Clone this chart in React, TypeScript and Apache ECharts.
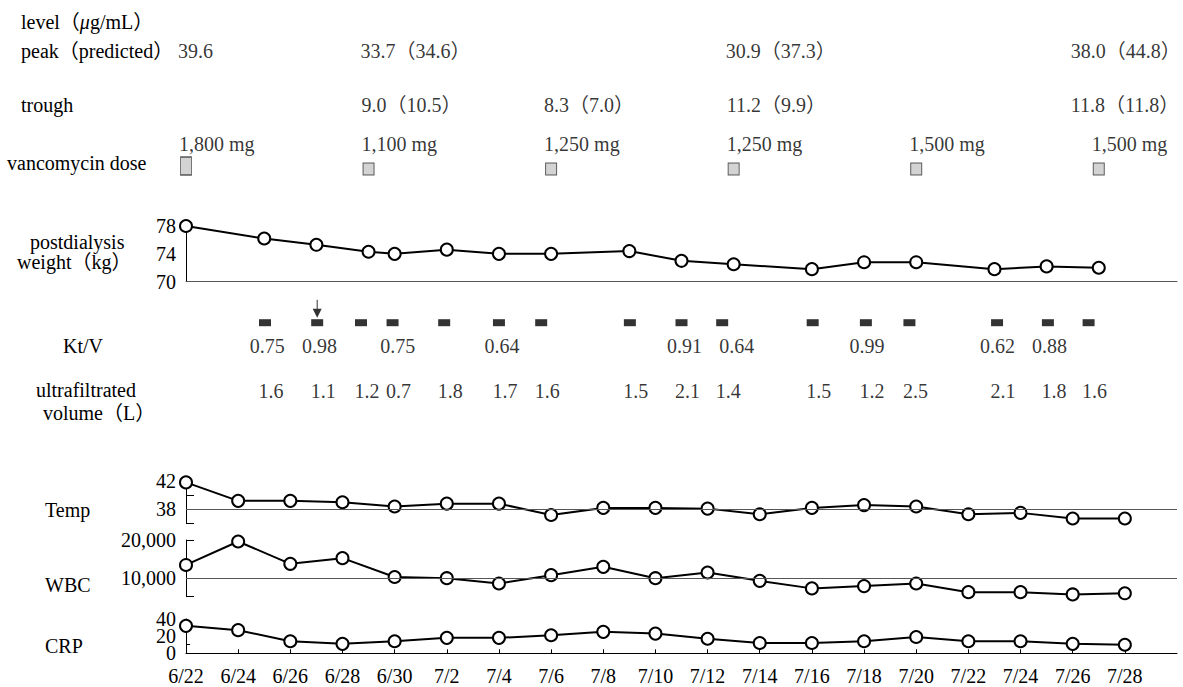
import React, { useEffect, useRef } from "react";
import * as echarts from "echarts";

// ---------- data ----------
const tickDates = ["6/22", "6/24", "6/26", "6/28", "6/30", "7/2", "7/4", "7/6", "7/8", "7/10", "7/12", "7/14", "7/16", "7/18", "7/20", "7/22", "7/24", "7/26", "7/28"];
const tempC = [41.8, 39.2, 39.2, 39.0, 38.4, 38.8, 38.8, 37.2, 38.2, 38.2, 38.1, 37.3, 38.2, 38.6, 38.4, 37.3, 37.5, 36.7, 36.7];
const wbc = [13400, 19600, 13700, 15200, 10200, 9900, 8500, 10700, 12900, 9900, 11400, 9200, 7200, 7800, 8500, 6200, 6200, 5600, 5900];
const crp = [32, 27, 14, 11, 14, 18, 18, 21, 25, 23, 17, 12, 12, 14, 19, 14, 14, 11, 10];

const weightDates = ["6/22", "6/25", "6/27", "6/29", "6/30", "7/2", "7/4", "7/6", "7/9", "7/11", "7/13", "7/16", "7/18", "7/20", "7/23", "7/25", "7/27"];
const weightKg = [78.0, 76.2, 75.3, 74.3, 74.0, 74.6, 74.0, 74.0, 74.4, 73.0, 72.5, 71.8, 72.8, 72.8, 71.8, 72.2, 72.0];

const doseDates = ["6/22", "6/29", "7/6", "7/13", "7/20", "7/27"];
const doseMg = [1800, 1100, 1250, 1250, 1500, 1500];

const peakDates = ["6/22", "6/29", "7/13", "7/27"];
const peakMeasured = [39.6, 33.7, 30.9, 38.0];
const peakPredicted: (number | null)[] = [null, 34.6, 37.3, 44.8];

const troughDates = ["6/29", "7/6", "7/13", "7/27"];
const troughMeasured = [9.0, 8.3, 11.2, 11.8];
const troughPredicted = [10.5, 7.0, 9.9, 11.8];

// dialysis sessions (days after 6/22, as drawn)
const sessionDays = [3.03, 5.03, 6.71, 7.92, 9.9, 12.0, 13.62, 17.02, 19.0, 20.56, 24.03, 26.07, 27.74, 31.1, 33.05, 34.61];
const ufVolumeL = [1.6, 1.1, 1.2, 0.7, 1.8, 1.7, 1.6, 1.5, 2.1, 1.4, 1.5, 1.2, 2.5, 2.1, 1.8, 1.6];
const arrowSessions = [1];

const ktvDates = ["6/25", "6/27", "6/30", "7/4", "7/11", "7/13", "7/18", "7/23", "7/25"];
const ktv = [0.75, 0.98, 0.75, 0.64, 0.91, 0.64, 0.99, 0.62, 0.88];

const weightTicks = [70, 74, 78];
const tempLabels = [38, 42];
const wbcLabels = [10000, 20000];
const crpLabelsOuter = [0, 40];
const crpLabelsMid = [20];

const feverLine = 38;
const wbcLine = 10000;

// ---------- helpers ----------
const FONT = "'Liberation Serif', 'Noto Sans CJK JP', serif";
const FS = 20;
const X_MAX = 38;

function dayOf(s: string) {
  const [m, d] = s.split("/").map(Number);
  return m === 6 ? d - 22 : d + 8;
}
const fmtNum = (v: number) => v.toLocaleString("en-US");

function textSeries(grid: number, xs: number[], texts: string[], align: string, dxFn: (i: number) => number, dy = 0, y = 0.5) {
  return {
    type: "scatter",
    xAxisIndex: grid,
    yAxisIndex: grid,
    silent: true,
    symbolSize: 1,
    itemStyle: { color: "rgba(0,0,0,0)" },
    data: xs.map((x, i) => ({ value: [x, y], label: { offset: [dxFn(i), dy] } })),
    label: {
      show: true,
      position: "inside",
      align,
      verticalAlign: "middle",
      color: "#000",
      fontFamily: FONT,
      fontSize: FS,
      formatter: (p: any) => texts[p.dataIndex],
    },
  };
}

const lineStyleSeries = (grid: number, xs: number[], ys: number[], extra: any = {}) => ({
  type: "line",
  xAxisIndex: grid,
  yAxisIndex: grid,
  data: xs.map((x, i) => [x, ys[i]]),
  symbol: "circle",
  symbolSize: 12,
  lineStyle: { color: "#000", width: 2 },
  itemStyle: { color: "#fff", borderColor: "#000", borderWidth: 2 },
  silent: true,
  ...extra,
});

const refLine = (v: number) => ({
  silent: true,
  symbol: ["none", "none"],
  label: { show: false },
  lineStyle: { color: "#555", width: 1, type: "solid" },
  data: [{ yAxis: v }],
});

function rowLabel(text: string, x: number, y: number) {
  return {
    type: "text",
    x,
    y,
    silent: true,
    style: {
      text,
      fill: "#000",
      fontFamily: FONT,
      fontSize: FS,
      align: "left",
      verticalAlign: "middle",
      textAlign: "left",
      textVerticalAlign: "middle",
    },
  };
}

export default function App() {
  const ref = useRef<HTMLDivElement>(null);
  useEffect(() => {
    const chart = echarts.init(ref.current!, undefined, { renderer: "svg" });

    const gridDefs = [
      { top: 41, height: 20 }, // 0 peak
      { top: 95, height: 20 }, // 1 trough
      { top: 135, height: 40 }, // 2 dose
      { top: 226, height: 55.7 }, // 3 weight
      { top: 312.7, height: 20 }, // 4 sessions
      { top: 335.7, height: 20 }, // 5 Kt/V
      { top: 381, height: 20 }, // 6 UF
      { top: 481, height: 42.5 }, // 7 temp
      { top: 540, height: 56.7 }, // 8 WBC
      { top: 619, height: 34.3 }, // 9 CRP
    ];
    const grid = gridDefs.map((g) => ({ ...g, left: 186, right: 6, containLabel: false, outerBoundsMode: "none" }));

    const tickDays = tickDates.map(dayOf);
    const labelByDay: Record<number, string> = {};
    tickDates.forEach((s) => (labelByDay[dayOf(s)] = s));

    const xAxis = gridDefs.map((_, i) => {
      const base: any = { gridIndex: i, type: "value", min: 0, max: X_MAX, splitLine: { show: false } };
      if (i === 3) {
        return { ...base, axisLine: { show: true, onZero: false, lineStyle: { color: "#555", width: 1 } }, axisTick: { show: false }, axisLabel: { show: false } };
      }
      if (i === 9) {
        return {
          ...base,
          axisLine: { show: true, onZero: false, lineStyle: { color: "#000", width: 1 } },
          axisTick: { show: true, inside: true, length: 4, customValues: tickDays, lineStyle: { color: "#000" } },
          axisLabel: {
            show: true,
            customValues: tickDays,
            margin: 13,
            color: "#000",
            fontFamily: FONT,
            fontSize: FS,
            hideOverlap: false,
            formatter: (v: number) => labelByDay[v] ?? "",
          },
        };
      }
      return { ...base, show: false };
    });

    const yLabel = { color: "#000", fontFamily: FONT, fontSize: FS, margin: 10, showMinLabel: true, showMaxLabel: true, hideOverlap: false };
    const yAxis: any[] = gridDefs.map((_, i) => {
      const base: any = { gridIndex: i, type: "value", splitLine: { show: false } };
      if (i === 3) {
        return { ...base, min: 70, max: 78, axisLine: { show: true, lineStyle: { color: "#000" } }, axisTick: { show: false }, axisLabel: { ...yLabel, customValues: weightTicks } };
      }
      if (i === 7) {
        return {
          ...base, min: 36, max: 42,
          axisLine: { show: true, lineStyle: { color: "#000" } },
          axisTick: { show: true, inside: true, length: 8, customValues: [36, 38, 40], lineStyle: { color: "#000" } },
          axisLabel: { ...yLabel, customValues: tempLabels },
        };
      }
      if (i === 8) {
        return {
          ...base, min: 5000, max: 20000,
          axisLine: { show: true, lineStyle: { color: "#000" } },
          axisTick: { show: true, inside: true, length: 8, customValues: [5000, 10000, 20000], lineStyle: { color: "#000" } },
          axisLabel: { ...yLabel, customValues: wbcLabels, formatter: (v: number) => fmtNum(v) },
        };
      }
      if (i === 9) {
        return {
          ...base, min: 0, max: 40,
          axisLine: { show: true, lineStyle: { color: "#000" } },
          axisTick: { show: true, inside: true, length: 4, customValues: [10, 30], lineStyle: { color: "#000" } },
          axisLabel: { ...yLabel, customValues: crpLabelsOuter },
        };
      }
      return { ...base, min: 0, max: 1, show: false };
    });
    // second CRP axis carrying only the middle label (labels are stacked tightly)
    yAxis.push({
      gridIndex: 9,
      type: "value",
      position: "left",
      min: 0,
      max: 40,
      splitLine: { show: false },
      axisLine: { show: false },
      axisTick: { show: false },
      axisLabel: { ...yLabel, customValues: crpLabelsMid },
    });

    const peakX = peakDates.map(dayOf);
    const troughX = troughDates.map(dayOf);
    const doseX = doseDates.map(dayOf);
    const tickX = tickDays;

    const series: any[] = [
      textSeries(0, peakX, peakMeasured.map((v, i) => (peakPredicted[i] == null ? v.toFixed(1) : `${v.toFixed(1)}（${(peakPredicted[i] as number).toFixed(1)}）`)), "left", (i) => (peakX[i] >= 35 ? -28 : -8)),
      textSeries(1, troughX, troughMeasured.map((v, i) => `${v.toFixed(1)}（${troughPredicted[i].toFixed(1)}）`), "left", (i) => (troughX[i] >= 35 ? -28 : -7)),
      {
        type: "scatter",
        xAxisIndex: 2,
        yAxisIndex: 2,
        silent: true,
        symbol: "rect",
        itemStyle: { color: "#c8c8c8", borderColor: "#333", borderWidth: 1 },
        data: doseX.map((x, i) => {
          const h = doseMg[i] >= 1800 ? 18 : 12;
          return { value: [x, 0], symbolSize: [11, h], symbolOffset: [0, -h / 2] };
        }),
      },
      textSeries(2, doseX, doseMg.map((v) => `${fmtNum(v)} mg`), "left", () => -7, -31, 0),
      lineStyleSeries(3, weightDates.map(dayOf), weightKg),
      {
        type: "scatter",
        xAxisIndex: 4,
        yAxisIndex: 4,
        silent: true,
        symbol: "rect",
        symbolSize: [12, 7],
        itemStyle: { color: "#000" },
        data: sessionDays.map((x) => [x, 0.5]),
      },
      {
        type: "scatter",
        xAxisIndex: 4,
        yAxisIndex: 4,
        silent: true,
        symbol: "path://M4.5,0 L5.5,0 L5.5,9 L9.5,9 L5,18 L0.5,9 L4.5,9 Z",
        symbolSize: [9, 18],
        symbolOffset: [0, -14],
        itemStyle: { color: "#000" },
        data: arrowSessions.map((i) => [sessionDays[i], 0.5]),
      },
      textSeries(5, ktvDates.map(dayOf), ktv.map((v) => v.toFixed(2)), "center", () => 3),
      textSeries(6, sessionDays, ufVolumeL.map((v) => v.toFixed(1)), "center", () => 6),
      lineStyleSeries(7, tickX, tempC, { markLine: refLine(feverLine) }),
      lineStyleSeries(8, tickX, wbc, { markLine: refLine(wbcLine) }),
      lineStyleSeries(9, tickX, crp),
    ];

    const graphic = [
      {
        type: "text",
        x: 21,
        y: 21.7,
        silent: true,
        style: {
          text: "{n|level（}{i|μ}{n|g/mL）}",
          rich: {
            n: { fontFamily: FONT, fontSize: FS, fill: "#000", color: "#000" },
            i: { fontFamily: FONT, fontSize: FS, fontStyle: "italic", fill: "#000", color: "#000" },
          },
          verticalAlign: "middle",
          textVerticalAlign: "middle",
        },
      },
      rowLabel("peak（predicted）", 21, 51),
      rowLabel("trough", 21, 105),
      rowLabel("vancomycin dose", 7, 163),
      rowLabel("postdialysis", 30, 242),
      rowLabel("weight（kg）", 17, 262),
      rowLabel("Kt/V", 63, 345.7),
      rowLabel("ultrafiltrated", 36, 390),
      rowLabel("volume（L）", 43, 413),
      rowLabel("Temp", 45, 510),
      rowLabel("WBC", 45, 585),
      rowLabel("CRP", 45, 646),
    ];

    chart.setOption({
      animation: false,
      backgroundColor: "#fff",
      textStyle: { fontFamily: FONT },
      grid,
      xAxis,
      yAxis,
      series,
      graphic,
    });
    return () => chart.dispose();
  }, []);

  return <div ref={ref} style={{ position: "fixed", left: 0, top: 0, width: 1183, height: 687, background: "#fff" }} />;
}
